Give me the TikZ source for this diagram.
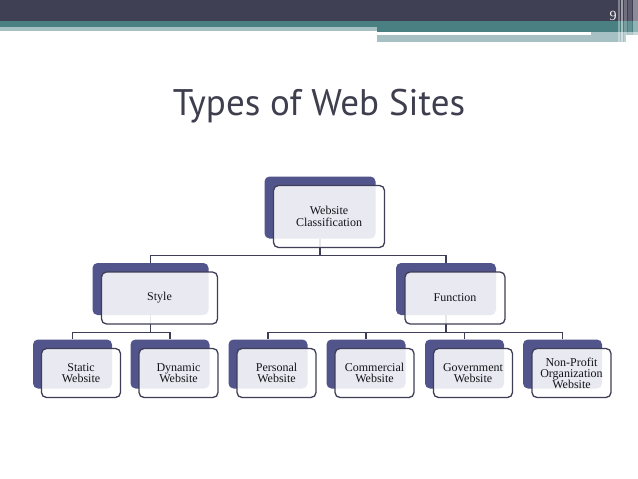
\documentclass[tikz,border=0pt]{standalone}
\usepackage{fontspec}
\setmainfont{Liberation Serif}
\newfontfamily\titlefont{PT Sans}
\usetikzlibrary{positioning}
\definecolor{hdrdark}{RGB}{64,64,84}
\definecolor{hdrteal}{RGB}{74,128,130}
\definecolor{hdrlight}{RGB}{166,192,196}
\definecolor{backblue}{RGB}{82,84,140}
\definecolor{edgegray}{RGB}{62,62,86}
\definecolor{titlegray}{RGB}{62,62,78}
\definecolor{boxtext}{RGB}{20,20,24}
\tikzset{
  backbox/.style={draw=none, fill=backblue, rounded corners=5pt, inner sep=0pt},
  frontbox/.style={draw=edgegray, line width=1.3pt, fill=white, fill opacity=0.88, text opacity=1,
     text=boxtext, rounded corners=5pt, inner sep=0pt, align=center, font=\fontsize{12}{11.5}\selectfont},
  topsize/.style={minimum width=111pt, minimum height=62pt},
  stylesize/.style={minimum width=116pt, minimum height=52pt},
  funcsize/.style={minimum width=100pt, minimum height=52pt},
  leafsize/.style={minimum width=79pt, minimum height=49pt},
  conn/.style={draw=edgegray, line width=1.3pt},
}
\begin{document}
\begin{tikzpicture}[x=1pt,y=-1pt]
\useasboundingbox (0,0) rectangle (638,479);
\fill[white] (0,0) rectangle (638,479);
% header
\fill[hdrdark] (0,0) rectangle (638,21);
\fill[hdrteal] (0,21) rectangle (638,27);
\fill[hdrlight] (0,27) rectangle (377,31);
\fill[hdrteal] (377,27) rectangle (638,32);
\fill[white] (377,32) rectangle (591,35);
\fill[hdrlight] (591,32) rectangle (638,35);
\fill[hdrlight] (377,35) rectangle (626,42);
\fill[white, opacity=0.35] (618,0) rectangle (620,43);
\fill[white, opacity=0.5] (621,0) rectangle (623,43);
\fill[white, opacity=0.25] (624,0) rectangle (627,43);
\fill[white, opacity=0.15] (628,0) rectangle (632,43);
\fill[white, opacity=0.4] (633,0) rectangle (638,43);
\node[text=white!92!gray, font=\fontsize{14}{16}\selectfont] (pnum) at (613,15.5) {9};
% title
\node[font=\titlefont\fontsize{37}{40}\selectfont, text=titlegray, anchor=base] (title) at (319,115) {Types of Web Sites};
% back boxes
\node[backbox, topsize] (top) at (320,207.5) {};
\node[backbox, stylesize] (sty) at (150.5,289) {};
\node[backbox, funcsize] (fun) at (446,289) {};
\node[backbox, leafsize] (sta) at (72.5,364) {};
\node[backbox, leafsize] (dyn) at (170,364) {};
\node[backbox, leafsize] (per) at (268,364) {};
\node[backbox, leafsize] (com) at (366,364) {};
\node[backbox, leafsize] (gov) at (464.5,364) {};
\node[backbox, leafsize] (npo) at (562.5,364) {};
% connectors
\draw[conn] (top.south) -- ++(0,17) -| (sty.north);
\draw[conn] (top.south) -- ++(0,17) -| (fun.north);
\draw[conn] (sty.south) -- ++(0,17) -| (sta.north);
\draw[conn] (sty.south) -- ++(0,17) -| (dyn.north);
\draw[conn] (fun.south) -- ++(0,17) -| (per.north);
\draw[conn] (fun.south) -- ++(0,17) -| (com.north);
\draw[conn] (fun.south) -- ++(0,17) -| (gov.north);
\draw[conn] (fun.south) -- ++(0,17) -| (npo.north);
% front boxes
\node[frontbox, topsize] (topf) at (329,216.5) {Website\\Classification};
\node[frontbox, stylesize] (styf) at (159.5,298) {Style};
\node[frontbox, funcsize] (funf) at (455,298) {Function};
\node[frontbox, leafsize] (staf) at (81,373) {Static\\Website};
\node[frontbox, leafsize] (dynf) at (178.5,373) {Dynamic\\Website};
\node[frontbox, leafsize] (perf) at (276.5,373) {Personal\\Website};
\node[frontbox, leafsize] (comf) at (374.5,373) {Commercial\\Website};
\node[frontbox, leafsize] (govf) at (473,373) {Government\\Website};
\node[frontbox, leafsize, font=\fontsize{12}{11}\selectfont] (npof) at (571.5,373) {Non-Profit\\Organization\\Website};
\end{tikzpicture}
\end{document}
